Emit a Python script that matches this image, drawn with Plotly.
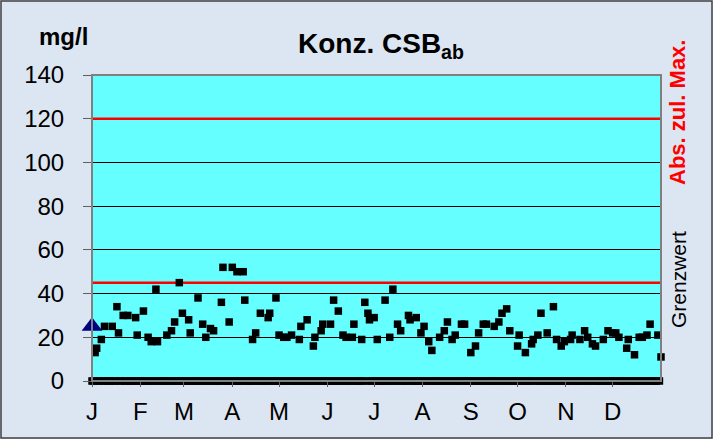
import plotly.graph_objects as go

# ---- data (day of year, 0-based; concentration mg/l) ----
sample_days = [2, 3, 6, 8, 13, 16, 17, 20, 23, 28, 29, 33, 36, 38, 41, 42, 48, 51, 53, 56,
               58, 62, 63, 68, 71, 73, 76, 78, 83, 84, 88, 90, 93, 97, 98, 103, 105, 108,
               113, 114, 118, 120, 123, 125, 128, 133, 134, 138, 142, 143, 147, 148, 153,
               155, 158, 161, 163, 167, 168, 173, 175, 177, 178, 181, 183, 188, 191, 193,
               196, 198, 203, 204, 208, 211, 213, 216, 218, 223, 226, 228, 231, 233, 237,
               239, 243, 246, 248, 251, 253, 258, 261, 263, 266, 268, 273, 274, 278, 282,
               283, 286, 288, 292, 296, 298, 301, 303, 307, 308, 313, 316, 318, 321, 323,
               328, 331, 334, 336, 338, 343, 344, 348, 351, 353, 356, 358, 363, 365]
sample_values = [13, 15, 19, 25, 25, 34, 22, 30, 30, 29, 21, 32, 20, 18, 42, 18, 21, 23, 27, 45,
                 31, 28, 22, 38, 26, 20, 24, 23, 36, 52, 27, 52, 50, 50, 37, 19, 22, 31,
                 29, 31, 38, 21, 20, 20, 21, 19, 25, 28, 16, 20, 23, 26, 26,
                 37, 32, 21, 20, 20, 26, 19, 36, 31, 28, 29, 19, 37, 20, 42,
                 26, 23, 30, 28, 29, 22, 25, 18, 14, 20, 23, 27, 19, 21, 26,
                 26, 13, 16, 22, 26, 26, 25, 27, 31, 33, 23, 16, 21, 13, 17,
                 19, 21, 31, 22, 34, 19, 16, 18, 19, 21, 19, 23, 20, 17, 16,
                 19, 23, 22, 22, 20, 15, 19, 12, 20, 20, 21, 26, 21, 11]
all_days = list(range(0, 366))
no_sample_days = [d for d in all_days if d not in sample_days]
no_sample_values = [0] * len(no_sample_days)

prev_year_day = [0]
prev_year_value = [25]

grenzwert = 45
abs_max = 120

month_starts = [0, 31, 59, 90, 120, 151, 181, 212, 243, 273, 304, 334]
month_labels = ["J", "F", "M", "A", "M", "J", "J", "A", "S", "O", "N", "D"]
y_ticks = [0, 20, 40, 60, 80, 100, 120, 140]

FONT = "Liberation Sans, Arial, sans-serif"

fig = go.Figure()

# limit lines
fig.add_trace(go.Scatter(x=[all_days[0], all_days[-1]], y=[abs_max, abs_max], mode="lines",
                         line=dict(color="#FF0000", width=2.5), showlegend=False, hoverinfo="skip"))
fig.add_trace(go.Scatter(x=[all_days[0], all_days[-1]], y=[grenzwert, grenzwert], mode="lines",
                         line=dict(color="#FF0000", width=2.5), showlegend=False, hoverinfo="skip"))

# days without sample (value 0)
fig.add_trace(go.Scatter(x=no_sample_days, y=no_sample_values, mode="markers",
                         marker=dict(symbol="square", size=7.5, color="black"),
                         cliponaxis=False, showlegend=False))
# measured values
fig.add_trace(go.Scatter(x=sample_days, y=sample_values, mode="markers",
                         marker=dict(symbol="square", size=7.5, color="black"),
                         cliponaxis=False, showlegend=False))
# previous year mean
fig.add_trace(go.Scatter(x=prev_year_day, y=prev_year_value, mode="markers",
                         marker=dict(symbol="triangle-up", size=18, color="#000080"),
                         cliponaxis=False, showlegend=False))

L, R, T, B = 92, 661, 75, 381
W, H = 713, 439

def px(x):
    return (x - L) / (R - L)

def py(y):
    return (B - y) / (B - T)

fig.update_layout(
    width=W, height=H,
    margin=dict(l=L, r=W - R, t=T, b=H - B),
    paper_bgcolor="#DCE6F2",
    plot_bgcolor="#66FFFF",
    font=dict(family=FONT, color="black", size=24),
    xaxis=dict(range=[0, 365], tickvals=month_starts, ticktext=month_labels,
               showgrid=False, zeroline=False, ticks="outside", ticklen=5,
               tickcolor="#606060", showline=False, ticklabelstandoff=4,
               tickfont=dict(size=24, family=FONT)),
    yaxis=dict(range=[0, 140], tickvals=y_ticks, showgrid=True, gridcolor="black",
               gridwidth=1, zeroline=False, ticks="outside", ticklen=8,
               tickcolor="#606060", showline=False, ticklabelstandoff=14,
               tickfont=dict(size=24, family=FONT)),
    shapes=[
        dict(type="rect", xref="paper", yref="paper", x0=0, x1=1, y0=0, y1=1,
             line=dict(color="#808080", width=2), fillcolor="rgba(0,0,0,0)"),
        dict(type="rect", xref="paper", yref="paper",
             x0=px(1), x1=px(712), y0=py(438), y1=py(1),
             line=dict(color="#404040", width=1.5), fillcolor="rgba(0,0,0,0)"),
    ],
    annotations=[
        dict(text="<b>Konz. CSB<sub>ab</sub></b>", xref="paper", yref="paper",
             x=px(381), y=py(46), showarrow=False, font=dict(size=28, family=FONT),
             xanchor="center", yanchor="middle"),
        dict(text="<b>mg/l</b>", xref="paper", yref="paper",
             x=px(63), y=py(36), showarrow=False, font=dict(size=24, family=FONT),
             xanchor="center", yanchor="middle"),
        dict(text="<b>Abs. zul. Max.</b>", xref="paper", yref="paper",
             x=px(677), y=py(113), showarrow=False, textangle=-90,
             font=dict(size=22, family=FONT, color="#FF0000"),
             xanchor="center", yanchor="middle"),
        dict(text="Grenzwert", xref="paper", yref="paper",
             x=px(678), y=py(279), showarrow=False, textangle=-90,
             font=dict(size=21, family=FONT, color="black"),
             xanchor="center", yanchor="middle"),
    ],
)

fig.write_html("out.html", config={"displayModeBar": False},
               post_script="document.body.style.margin='0px';")
